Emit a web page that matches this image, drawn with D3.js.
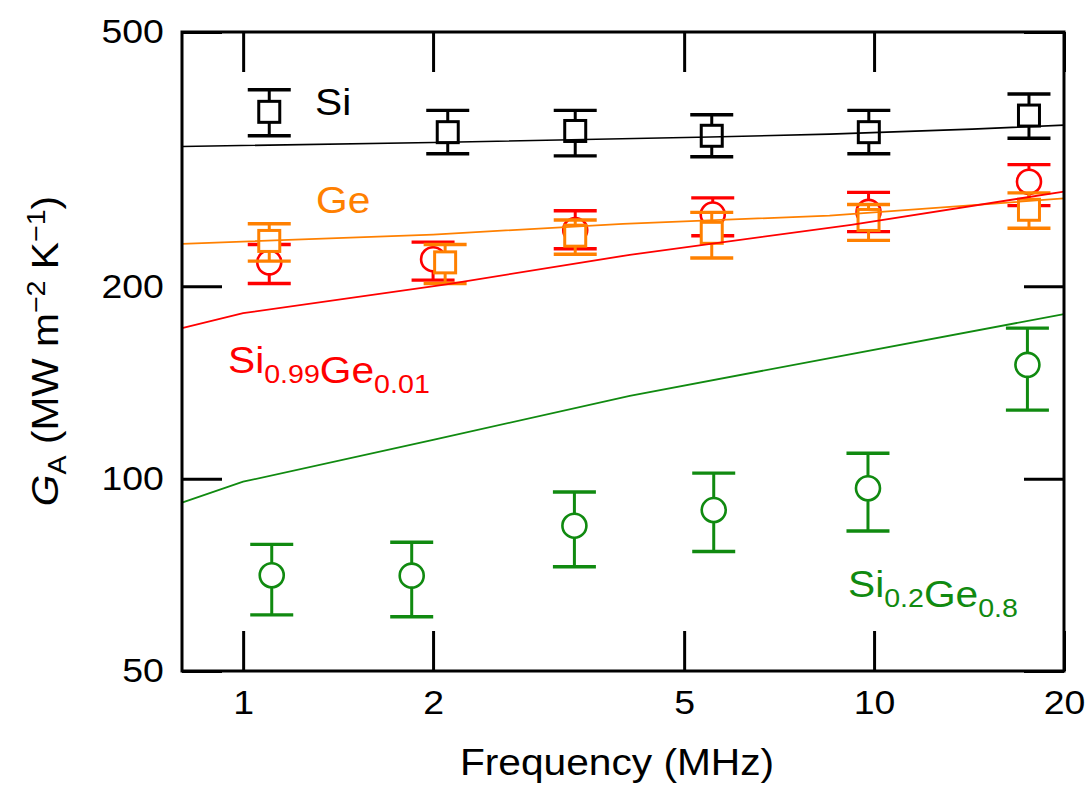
<!DOCTYPE html>
<html>
<head>
<meta charset="utf-8">
<script src="https://cdn.jsdelivr.net/npm/d3@7"></script>
<style>
  body { margin: 0; background: #fff; }
  svg { display: block; }
  text { font-family: "Liberation Sans", Arial, Helvetica, sans-serif; }
</style>
</head>
<body>
<svg id="chart" width="1090" height="786"></svg>
<script>
// ---- Measured conductance G_A (MW m^-2 K^-1) vs modulation frequency (MHz) ----
// Si (squares)
const freqSi   = [1.10, 2.11, 3.36, 5.53, 9.81, 17.6];
const gSi      = [375, 348.5, 350, 344, 348.5, 370];
const gSiHi    = [406, 377, 377, 371, 377, 400];
const gSiLo    = [344, 322.5, 320, 319, 322.5, 341];

// Ge (squares)
const freqGe   = [1.10, 2.09, 3.36, 5.53, 9.80, 17.6];
const gGe      = [235.5, 218, 240, 242.5, 254, 263.5];
const gGeHi    = [250.5, 232.5, 254, 261, 268.5, 280];
const gGeLo    = [219, 202, 224.5, 221.5, 236, 246.5];

// Si0.99Ge0.01 (circles)
const freqSiGe01 = [1.10, 2.00, 3.36, 5.55, 9.80, 17.6];
const gSiGe01    = [218, 220.5, 245, 259, 261.5, 291.5];
const gSiGe01Hi  = [232.5, 234.5, 262.5, 275, 280.5, 310];
const gSiGe01Lo  = [202, 204.5, 229, 240, 243.5, 267.5];

// Si0.2Ge0.8 (circles)
const freqSiGe80 = [1.11, 1.85, 3.35, 5.57, 9.78, 17.5];
const gSiGe80    = [70.6, 70.5, 84.4, 89.3, 96.6, 150.7];
const gSiGe80Hi  = [78.9, 79.5, 95.3, 102, 109.6, 172];
const gSiGe80Lo  = [61.2, 60.8, 72.8, 76.9, 82.8, 128];

// ---- Model curves ----
const modelFreqSi     = [0.8, 2, 5.5, 8.5, 14.3, 20];
const modelSi         = [331, 335.8, 342.4, 346, 352.3, 357.5];
const modelFreqGe     = [0.8, 2, 4, 8.5, 20];
const modelGe         = [233, 241, 250.5, 258, 274.5];
const modelFreqSiGe01 = [0.8, 1, 2.1, 4.1, 9.2, 20];
const modelSiGe01     = [172, 181.5, 201.4, 224, 249.6, 281.4];
const modelFreqSiGe80 = [0.8, 1, 2, 4.1, 20];
const modelSiGe80     = [91.7, 98.9, 115, 134.8, 180.9];

// ---- Axis ticks ----
const xTicks = [1, 2, 5, 10, 20];
const yTicks = [50, 100, 200, 500];

// ---- Layout ----
const L = 182, R = 1064, T = 32, B = 671;
const svg = d3.select("#chart");
const x = d3.scaleLog().domain([0.8, 20]).range([L, R]);
const y = d3.scaleLog().domain([50, 500]).range([B, T]);
const STRETCH = 1.1;

const colors = { si: "#000000", ge: "#ff8000", sige01: "#ff0000", sige80: "#108a10" };

const series = [
  { key: "sige80", shape: "circle", f: freqSiGe80, v: gSiGe80, hi: gSiGe80Hi, lo: gSiGe80Lo },
  { key: "sige01", shape: "circle", f: freqSiGe01, v: gSiGe01, hi: gSiGe01Hi, lo: gSiGe01Lo },
  { key: "ge",     shape: "square", f: freqGe,     v: gGe,     hi: gGeHi,     lo: gGeLo },
  { key: "si",     shape: "square", f: freqSi,     v: gSi,     hi: gSiHi,     lo: gSiLo }
];

const models = [
  { key: "si",     f: modelFreqSi,     v: modelSi,     w: 1.6 },
  { key: "ge",     f: modelFreqGe,     v: modelGe,     w: 1.8 },
  { key: "sige01", f: modelFreqSiGe01, v: modelSiGe01, w: 1.8 },
  { key: "sige80", f: modelFreqSiGe80, v: modelSiGe80, w: 1.8 }
];

// ---- Data points with error bars ----
const capW = 43, sq = 21, rad = 12;
series.forEach(s => {
  const c = colors[s.key];
  const pts = s.f.map((f, i) => ({ f, v: s.v[i], hi: s.hi[i], lo: s.lo[i] }));
  const g = svg.append("g").attr("class", "pts-" + s.key);
  const p = g.selectAll("g").data(pts).join("g");
  p.append("line")
    .attr("x1", d => x(d.f)).attr("x2", d => x(d.f))
    .attr("y1", d => y(d.hi)).attr("y2", d => y(d.lo))
    .attr("stroke", c).attr("stroke-width", 3);
  ["hi", "lo"].forEach(k => {
    p.append("line")
      .attr("x1", d => x(d.f) - capW / 2).attr("x2", d => x(d.f) + capW / 2)
      .attr("y1", d => y(d[k])).attr("y2", d => y(d[k]))
      .attr("stroke", c).attr("stroke-width", 3.4);
  });
  if (s.shape === "square") {
    p.append("rect")
      .attr("x", d => x(d.f) - sq / 2).attr("y", d => y(d.v) - sq / 2)
      .attr("width", sq).attr("height", sq)
      .attr("fill", "#fff").attr("stroke", c).attr("stroke-width", 3);
  } else {
    p.append("circle")
      .attr("cx", d => x(d.f)).attr("cy", d => y(d.v)).attr("r", rad)
      .attr("fill", "#fff").attr("stroke", c).attr("stroke-width", 2.6);
  }
});

// ---- Model lines ----
const lineGen = d3.line().x(d => x(d[0])).y(d => y(d[1]));
models.forEach(m => {
  svg.append("path")
    .datum(m.f.map((f, i) => [f, m.v[i]]))
    .attr("d", lineGen)
    .attr("fill", "none")
    .attr("stroke", colors[m.key])
    .attr("stroke-width", m.w);
});

// ---- Frame and ticks ----
const tickLen = 40;
function styleAxis(g) {
  g.select(".domain").remove();
  g.selectAll(".tick line").attr("stroke", "#000").attr("stroke-width", 3);
}
svg.append("g").attr("transform", `translate(0,${B})`)
  .call(d3.axisBottom(x).tickValues(xTicks).tickSize(-tickLen).tickPadding(19).tickFormat(d3.format("d")))
  .call(styleAxis)
  .call(g => g.selectAll(".tick text")
    .attr("fill", "#000").style("font-size", "34px")
    .attr("transform", `scale(${STRETCH},1)`));
svg.append("g").attr("transform", `translate(0,${T})`)
  .call(d3.axisTop(x).tickValues(xTicks).tickSize(-tickLen).tickFormat(""))
  .call(styleAxis);
svg.append("g").attr("transform", `translate(${L},0)`)
  .call(d3.axisLeft(y).tickValues(yTicks).tickSize(-tickLen).tickPadding(16.5).tickFormat(d3.format("d")))
  .call(styleAxis)
  .call(g => g.selectAll(".tick text")
    .attr("fill", "#000").style("font-size", "34px")
    .attr("transform", `scale(${STRETCH},1)`));
svg.append("g").attr("transform", `translate(${R},0)`)
  .call(d3.axisRight(y).tickValues(yTicks).tickSize(-tickLen).tickFormat(""))
  .call(styleAxis);

svg.append("rect")
  .attr("x", L).attr("y", T).attr("width", R - L).attr("height", B - T)
  .attr("fill", "none").attr("stroke", "#000").attr("stroke-width", 3);

// ---- Text helpers ----
function label(xp, yp, anchor, size, color, rotate) {
  const tr = `translate(${xp},${yp})` + (rotate ? ` rotate(${rotate})` : "") + ` scale(${STRETCH},1)`;
  return svg.append("text")
    .attr("transform", tr)
    .attr("text-anchor", anchor)
    .attr("fill", color)
    .style("font-size", size + "px");
}
function chem(t, parts) {
  // parts: [text, isSubscript]
  parts.forEach(([s, sub]) => {
    if (sub) t.append("tspan").attr("dy", 10).style("font-size", "26px").text(s);
    else t.append("tspan").attr("dy", t.node().childNodes.length && t.node().lastChild.__sub ? -10 : 0).text(s);
    t.node().lastChild.__sub = sub;
  });
  return t;
}

// Axis titles
label(617, 775, "middle", 37, "#000").text("Frequency (MHz)");

const yt = label(58, 351, "middle", 37, "#000", -90);
yt.append("tspan").style("font-style", "italic").text("G");
yt.append("tspan").attr("dy", 8).style("font-size", "26px").text("A");
yt.append("tspan").attr("dy", -8).text(" (MW m");
yt.append("tspan").attr("dy", -13).style("font-size", "26px").text("\u22122");
yt.append("tspan").attr("dy", 13).text(" K");
yt.append("tspan").attr("dy", -13).style("font-size", "26px").text("\u22121");
yt.append("tspan").attr("dy", 13).text(")");

// Series labels
label(315, 115, "start", 37, colors.si).text("Si");
label(316, 213, "start", 37, colors.ge).text("Ge");
chem(label(228, 373, "start", 37, colors.sige01),
  [["Si", false], ["0.99", true], ["Ge", false], ["0.01", true]]);
chem(label(848, 597, "start", 37, colors.sige80),
  [["Si", false], ["0.2", true], ["Ge", false], ["0.8", true]]);
</script>
</body>
</html>
